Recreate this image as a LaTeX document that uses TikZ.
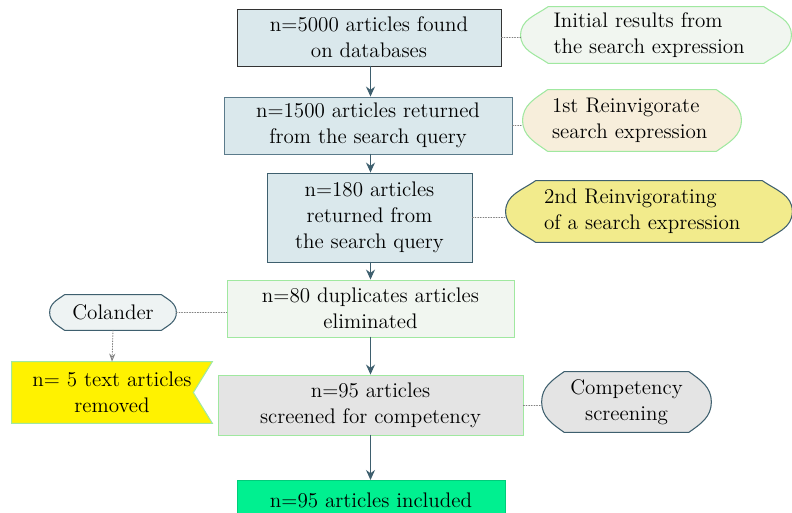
\documentclass[tikz,border=0pt]{standalone}
\usepackage{tikz}
\usetikzlibrary{arrows.meta,backgrounds}
\usepackage{xcolor}
\definecolor{boxblue}{RGB}{218,232,236}
\definecolor{slate}{RGB}{62,95,110}
\definecolor{slatelt}{RGB}{91,123,139}
\definecolor{palegreen}{RGB}{160,232,160}
\definecolor{mint}{RGB}{241,246,240}
\definecolor{beige}{RGB}{247,238,219}
\definecolor{sand}{RGB}{242,235,140}
\definecolor{frost}{RGB}{238,243,243}
\definecolor{greyfill}{RGB}{228,228,228}
\definecolor{brightgreen}{RGB}{0,240,144}

% rounded hexagon drawn round a node
\newcommand{\hexbub}[3]{%
  \path[#3] ([xshift=#2]#1.north west) -- ([xshift=-#2]#1.north east)
    to[out=-35,in=90] (#1.east) to[out=-90,in=35] ([xshift=-#2]#1.south east)
    -- ([xshift=#2]#1.south west) to[out=145,in=-90] (#1.west)
    to[out=90,in=-145] ([xshift=#2]#1.north west) -- cycle;}

\begin{document}
\begin{tikzpicture}[font=\fontsize{12}{14.8}\selectfont,line cap=round,
  box/.style={draw,align=center,inner sep=0pt,line width=0.5pt},
  bub/.style={align=left,inner sep=0pt},
  arr/.style={-{Stealth[length=2mm,width=1.8mm]},draw=slate,line width=0.7pt},
  dots/.style={densely dotted,draw=gray,line width=0.5pt}]
\useasboundingbox (0,0) rectangle (15.84,10.24);
\clip (0,0) rectangle (15.84,10.24);

% main column
\node[box,fill=boxblue,draw=black!80,minimum width=5.28cm,minimum height=1.14cm] (found) at (7.38,9.49) {n=5000 articles found\\on databases};
\node[box,fill=boxblue,draw=slatelt,minimum width=5.76cm,minimum height=1.14cm] (query) at (7.36,7.73) {n=1500 articles returned\\from the search query};
\node[box,fill=boxblue,draw=slate,minimum width=4.10cm,minimum height=1.78cm] (second) at (7.39,5.89) {n=180 articles\\returned from\\the search query};
\node[box,fill=mint,draw=palegreen,minimum width=5.74cm,minimum height=1.14cm] (dupl) at (7.41,4.07) {n=80 duplicates articles\\eliminated};
\node[box,fill=greyfill,draw=palegreen,minimum width=6.10cm,minimum height=1.20cm] (screen) at (7.41,2.14) {n=95 articles\\screened for competency};
\node[box,fill=brightgreen,draw=brightgreen!85!black,minimum width=5.36cm,minimum height=0.8cm,anchor=north] (incl) at (7.42,0.64) {n=95 articles included};

% side notes
\node[bub,minimum width=5.40cm,minimum height=1.12cm,text width=4.1cm] (initial) at (13.12,9.54) {Initial results from\\the search expression};
\node[bub,minimum width=4.36cm,minimum height=1.22cm,text width=3.2cm] (reinv) at (12.64,7.83) {1st Reinvigorate\\ search expression};
\node[bub,minimum width=5.72cm,minimum height=1.22cm,text width=4.2cm] (reinvb) at (12.98,6.01) {2nd Reinvigorating\\ of a search expression};
\node[align=center,inner sep=0pt,minimum width=2.52cm,minimum height=0.70cm] (colander) at (2.26,3.99) {Colander};
\node[align=center,inner sep=0pt,minimum width=3.38cm,minimum height=1.20cm] (comp) at (12.53,2.20) {Competency\\screening};
\node[align=center,inner sep=0pt,minimum width=4.00cm,minimum height=1.22cm] (removed) at (2.24,2.39) {n= 5 text articles\\removed};

\begin{scope}[on background layer]
\hexbub{initial}{0.55cm}{fill=mint,draw=palegreen,line width=0.6pt}
\hexbub{reinv}{0.5cm}{fill=beige,draw=palegreen,line width=0.6pt}
\hexbub{reinvb}{0.6cm}{fill=sand,draw=slate,line width=0.6pt}
\hexbub{colander}{0.3cm}{fill=frost,draw=slate,line width=0.6pt}
\hexbub{comp}{0.45cm}{fill=greyfill,draw=slate,line width=0.6pt}
\path[fill=yellow,draw=palegreen,line width=0.6pt] (removed.north west) -- (removed.north east)
  -- ([xshift=-0.38cm]removed.east) -- (removed.south east) -- (removed.south west) -- cycle;
\end{scope}

% arrows
\draw[arr] (found.south -| dupl.south) -- (dupl.south |- query.north);
\draw[arr] (query.south -| dupl.south) -- (dupl.south |- second.north);
\draw[arr] (second.south -| dupl.south) -- (dupl.north);
\draw[arr] (dupl.south) -- (dupl.south |- screen.north);
\draw[arr] (screen.south -| dupl.south) -- (dupl.south |- incl.north);

% dotted links
\draw[dots] (found.east) -- (found.east -| initial.west);
\draw[dots] (query.east) -- (query.east -| reinv.west);
\draw[dots] (second.east) -- (second.east -| reinvb.west);
\draw[dots] (colander.east) -- (colander.east -| dupl.west);
\draw[dots] (screen.east) -- (screen.east -| comp.west);
\draw[dots,-{Stealth[length=1.6mm,open]}] (colander.south) -- (removed.north);
\end{tikzpicture}
\end{document}
